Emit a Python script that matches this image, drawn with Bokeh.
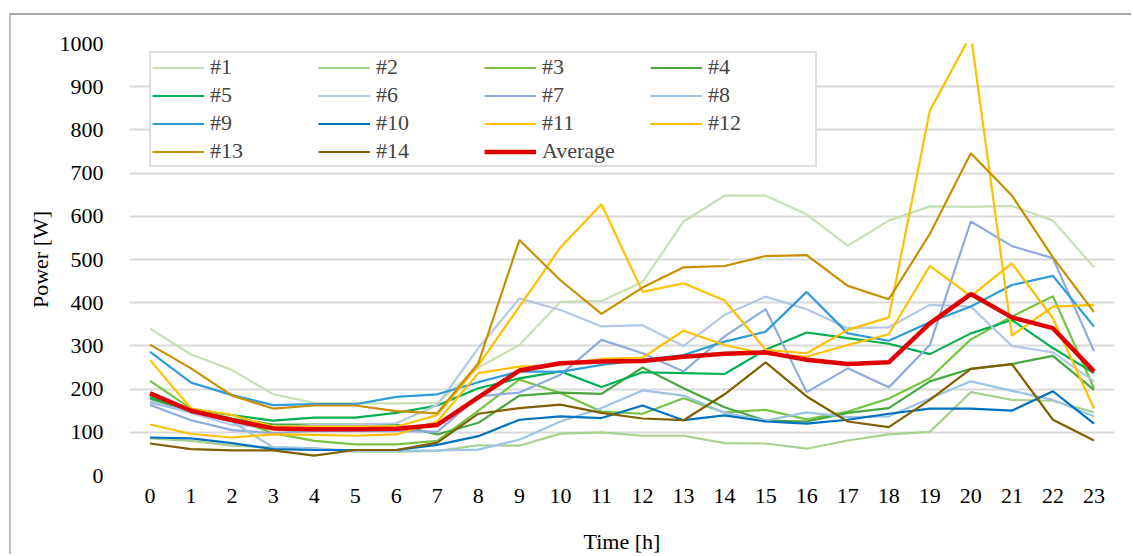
from bokeh.plotting import figure
from bokeh.models import Legend, LegendItem, FixedTicker, Range1d
from bokeh.embed import file_html
from bokeh.resources import INLINE

hours = list(range(24))
hour_labels = [str(h) for h in hours]
y_ticks = list(range(0, 1001, 100))

s1 = [340, 280, 244, 188, 168, 167, 167, 168, 250, 302, 402, 404, 448, 588, 648, 648, 604, 532, 590, 623, 622, 624, 590, 482]
s2 = [86, 80, 69, 65, 63, 55, 55, 57, 70, 69, 97, 100, 92, 92, 75, 74, 62, 81, 95, 101, 193, 175, 173, 146]
s3 = [219, 155, 132, 98, 80, 72, 72, 80, 150, 222, 191, 148, 143, 179, 146, 152, 130, 148, 178, 225, 315, 368, 415, 202]
s4 = [178, 148, 132, 118, 118, 118, 118, 95, 122, 185, 192, 189, 250, 202, 158, 127, 125, 145, 156, 218, 247, 258, 277, 198]
s5 = [181, 152, 140, 127, 134, 134, 145, 162, 202, 225, 241, 205, 239, 237, 235, 291, 331, 318, 305, 281, 329, 360, 295, 237]
s6 = [172, 145, 117, 110, 117, 118, 121, 163, 295, 410, 383, 345, 348, 300, 372, 414, 385, 341, 343, 395, 391, 300, 285, 218]
s7 = [163, 128, 105, 98, 103, 103, 104, 101, 183, 192, 233, 314, 283, 241, 322, 385, 193, 248, 204, 302, 588, 531, 503, 288]
s8 = [168, 148, 125, 65, 63, 57, 57, 58, 60, 83, 125, 156, 197, 185, 145, 127, 146, 135, 137, 178, 218, 196, 175, 137]
s9 = [286, 215, 186, 163, 165, 165, 182, 188, 216, 241, 240, 256, 268, 279, 310, 333, 425, 329, 312, 355, 391, 441, 462, 345]
s10 = [88, 86, 75, 61, 59, 59, 59, 71, 91, 129, 137, 133, 162, 128, 139, 125, 120, 129, 143, 155, 155, 150, 195, 120]
s11 = [267, 155, 140, 113, 113, 113, 113, 140, 255, 391, 528, 628, 425, 445, 405, 291, 283, 337, 366, 844, 1020, 324, 391, 395]
s12 = [118, 96, 88, 95, 94, 92, 95, 125, 237, 252, 256, 270, 273, 335, 302, 281, 275, 302, 327, 485, 415, 491, 364, 155]
s13 = [303, 248, 185, 155, 162, 162, 149, 144, 260, 545, 452, 374, 435, 482, 485, 508, 510, 439, 408, 559, 746, 648, 505, 378]
s14 = [74, 61, 58, 58, 46, 59, 59, 76, 143, 156, 164, 145, 132, 128, 188, 262, 183, 125, 112, 175, 247, 258, 129, 81]
average = [190, 150, 128, 109, 107, 107, 108, 117, 181, 243, 260, 264, 265, 275, 282, 285, 268, 258, 262, 352, 420, 366, 341, 241]

names = ["#1", "#2", "#3", "#4", "#5", "#6", "#7", "#8", "#9", "#10", "#11", "#12", "#13", "#14", "Average"]
series = [s1, s2, s3, s4, s5, s6, s7, s8, s9, s10, s11, s12, s13, s14, average]
colors = ["#C5E0B4", "#A9D18E", "#76C442", "#47A63E", "#00B050", "#B4C7E7", "#8FAADC", "#9DC3E6",
          "#2E9BDB", "#0070C0", "#FFC000", "#FFC000", "#C89000", "#806000", "#E00000"]
widths = [2.2] * 14 + [4.5]

FONT = "Liberation Serif"

p = figure(width=1122, height=541, x_range=Range1d(-0.5, 23.5), y_range=Range1d(0, 1000),
           output_backend="svg", toolbar_location=None,
           min_border_left=118, min_border_right=19, min_border_top=28, min_border_bottom=78)
p.margin = (13, 0, 0, 9)
p.styles = {"border-left": "2px solid #bdbdbd", "border-top": "2px solid #a6a6a6"}
p.outline_line_color = None
p.background_fill_color = "white"
p.border_fill_color = "white"

p.xgrid.visible = False
p.ygrid.grid_line_color = "#d9d9d9"
p.ygrid.grid_line_width = 2

p.xaxis.ticker = FixedTicker(ticks=hours)
p.xaxis.major_label_overrides = {h: lab for h, lab in zip(hours, hour_labels)}
p.yaxis.ticker = FixedTicker(ticks=y_ticks)
for ax in (p.xaxis, p.yaxis):
    ax.axis_line_color = None
    ax.major_tick_line_color = None
    ax.minor_tick_line_color = None
    ax.major_tick_out = 0
    ax.major_tick_in = 0
    ax.major_label_text_font = FONT
    ax.major_label_text_font_size = "22px"
    ax.major_label_text_color = "black"
    ax.axis_label_text_font = FONT
    ax.axis_label_text_font_size = "22px"
    ax.axis_label_text_font_style = "normal"
    ax.axis_label_text_color = "black"
p.xaxis.axis_label = "Time [h]"
p.yaxis.axis_label = "Power [W]"
p.xaxis.major_label_standoff = 13
p.xaxis.axis_label_standoff = 23
p.yaxis.major_label_standoff = 26
p.yaxis.axis_label_standoff = 4

items = []
for name, ys, c, w in zip(names, series, colors, widths):
    r = p.line(hours, ys, line_color=c, line_width=w)
    items.append(LegendItem(label=name, renderers=[r]))

legend = Legend(items=items, location=(20, 308), orientation="horizontal", ncols=4)
legend.label_text_font = FONT
legend.label_text_font_size = "22px"
legend.glyph_width = 52
legend.glyph_height = 25
legend.label_height = 25
legend.label_width = 106
legend.label_standoff = 6
legend.spacing = 2
legend.padding = 1
legend.margin = 0
legend.border_line_color = "#bfbfbf"
legend.border_line_width = 2
legend.background_fill_color = "white"
legend.background_fill_alpha = 1.0
p.add_layout(legend)

open("out.html", "w").write(file_html(p, INLINE))
